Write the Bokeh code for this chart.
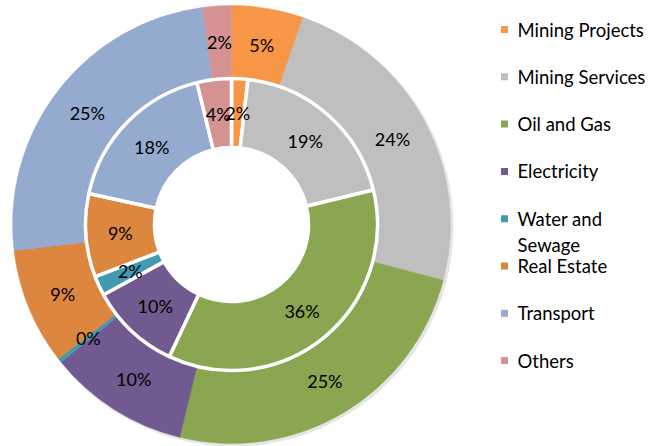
import numpy as np
from bokeh.plotting import figure
from bokeh.models import ColumnDataSource, Range1d
from bokeh.core.properties import value
from bokeh.embed import file_html
from bokeh.resources import INLINE

# ---- data ----
categories = ["Mining Projects", "Mining Services", "Oil and Gas", "Electricity",
              "Water and Sewage", "Real Estate", "Transport", "Others"]
outer_values = [5.3, 23.8, 24.7, 10.4, 0.3, 8.6, 24.8, 2.1]
inner_values = [1.8, 19.4, 35.8, 10.0, 2.2, 9.2, 17.8, 3.8]
legend_lines = [["Mining Projects"], ["Mining Services"], ["Oil and Gas"], ["Electricity"],
                ["Water and", "Sewage"], ["Real Estate"], ["Transport"], ["Others"]]
colors = ["#F79646", "#BFBFBF", "#8AA650", "#705A8F", "#4299B0", "#DD8640", "#95AACF", "#D49392"]

W, H = 648, 446
FONT = "Lato"

p = figure(width=W, height=H, output_backend="svg", toolbar_location=None,
           x_range=Range1d(0, W), y_range=Range1d(0, H), min_border=0)
p.axis.visible = False
p.grid.visible = False
p.outline_line_color = None
p.background_fill_color = "white"

cx, cy = 231, H - 224
r_out, r_mid, r_in = 219, 146, 77


def ring(vals):
    v = np.array(vals, dtype=float)
    frac = v / v.sum()
    cum = np.concatenate([[0], np.cumsum(frac)])
    start = np.pi / 2 - 2 * np.pi * cum[:-1]
    end = np.pi / 2 - 2 * np.pi * cum[1:]
    mid = (start + end) / 2
    return start, end, mid


# shadow of outer ring
p.annular_wedge(x=cx + 2, y=cy - 2, inner_radius=r_mid, outer_radius=r_out + 1,
                start_angle=0, end_angle=2 * np.pi, fill_color="#000000",
                fill_alpha=0.10, line_color=None)

so, eo, mo = ring(outer_values)
src_o = ColumnDataSource(dict(s=so, e=eo, c=colors))
p.annular_wedge(x=cx, y=cy, inner_radius=r_mid, outer_radius=r_out,
                start_angle="s", end_angle="e", direction="clock",
                fill_color="c", line_color="c", line_width=0.5, source=src_o)

si, ei, mi = ring(inner_values)
src_i = ColumnDataSource(dict(s=si, e=ei, c=colors))
p.annular_wedge(x=cx, y=cy, inner_radius=r_in, outer_radius=r_mid,
                start_angle="s", end_angle="e", direction="clock",
                fill_color="c", line_color="white", line_width=3.5, source=src_i)

# labels
ro = (r_mid + r_out) / 2
ri = (r_in + r_mid) / 2
lab_o = ColumnDataSource(dict(x=cx + ro * np.cos(mo), y=cy + ro * np.sin(mo),
                              t=[f"{round(v)}%" for v in outer_values]))
lab_i = ColumnDataSource(dict(x=cx + ri * np.cos(mi), y=cy + ri * np.sin(mi),
                              t=[f"{round(v)}%" for v in inner_values]))
for src in (lab_o, lab_i):
    p.text(x="x", y="y", text="t", source=src, text_font=value(FONT),
           text_font_size="18px", text_color="#000000",
           text_align="center", text_baseline="middle")

# legend
lx_sq, lx_txt = 504, 517
y0, dy, dl = H - 29, 47.3, 26
sq_x, sq_y, sq_c, tx, ty, tt = [], [], [], [], [], []
for i, lines in enumerate(legend_lines):
    yy = y0 - dy * i
    sq_x.append(lx_sq); sq_y.append(yy); sq_c.append(colors[i])
    for j, line in enumerate(lines):
        tx.append(lx_txt); ty.append(yy - dl * j); tt.append(line)
p.rect(x=sq_x, y=sq_y, width=7, height=7, fill_color=sq_c, line_color=None)
p.text(x=tx, y=ty, text=tt, text_font=value(FONT), text_font_size="18.5px",
       text_color="#000000", text_align="left", text_baseline="middle")

open("out.html", "w").write(file_html(p, INLINE))
